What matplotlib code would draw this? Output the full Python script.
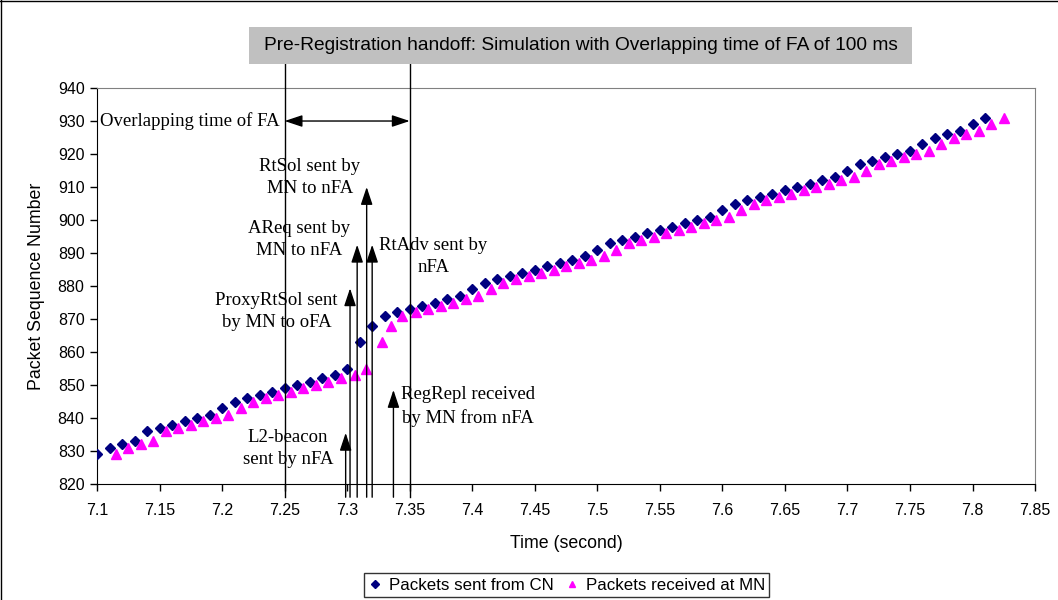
import matplotlib
matplotlib.use("Agg")
import matplotlib.pyplot as plt
from matplotlib.patches import Rectangle
from matplotlib.lines import Line2D

SANS = ["Liberation Sans", "DejaVu Sans"]
SERIF = ["Liberation Serif", "DejaVu Serif"]

# packets leaving the CN (time in s, sequence number)
sent_time = [7.10, 7.11, 7.12, 7.13, 7.14, 7.15, 7.16, 7.17, 7.18, 7.19,
             7.20, 7.21, 7.22, 7.23, 7.24, 7.25, 7.26, 7.27, 7.28, 7.29,
             7.30, 7.31, 7.32, 7.33, 7.34, 7.35, 7.36, 7.37, 7.38, 7.39,
             7.40, 7.41, 7.42, 7.43, 7.44, 7.45, 7.46, 7.47, 7.48, 7.49,
             7.50, 7.51, 7.52, 7.53, 7.54, 7.55, 7.56, 7.57, 7.58, 7.59,
             7.60, 7.61, 7.62, 7.63, 7.64, 7.65, 7.66, 7.67, 7.68, 7.69,
             7.70, 7.71, 7.72, 7.73, 7.74, 7.75, 7.76, 7.77, 7.78, 7.79,
             7.80, 7.81]
sent_seq = [829, 831, 832, 833, 836, 837, 838, 839, 840, 841,
            843, 845, 846, 847, 848, 849, 850, 851, 852, 853,
            855, 863, 868, 871, 872, 873, 874, 875, 876, 877,
            879, 881, 882, 883, 884, 885, 886, 887, 888, 889,
            891, 893, 894, 895, 896, 897, 898, 899, 900, 901,
            903, 905, 906, 907, 908, 909, 910, 911, 912, 913,
            915, 917, 918, 919, 920, 921, 923, 925, 926, 927,
            929, 931]

# packets arriving at the MN
recv_time = [7.115, 7.125, 7.135, 7.145, 7.155, 7.165, 7.175, 7.185, 7.195, 7.205,
             7.215, 7.225, 7.235, 7.245, 7.255, 7.265, 7.275, 7.285, 7.295, 7.306,
             7.315, 7.328, 7.335, 7.344, 7.355, 7.365, 7.375, 7.385, 7.395, 7.405,
             7.415, 7.425, 7.435, 7.445, 7.455, 7.465, 7.475, 7.485, 7.495, 7.505,
             7.515, 7.525, 7.535, 7.545, 7.555, 7.565, 7.575, 7.585, 7.595, 7.605,
             7.615, 7.625, 7.635, 7.645, 7.655, 7.665, 7.675, 7.685, 7.695, 7.705,
             7.715, 7.725, 7.735, 7.745, 7.755, 7.765, 7.775, 7.785, 7.795, 7.805,
             7.815, 7.825]
recv_seq = [829, 831, 832, 833, 836, 837, 838, 839, 840, 841,
            843, 845, 846, 847, 848, 849, 850, 851, 852, 853,
            855, 863, 868, 871, 872, 873, 874, 875, 876, 877,
            879, 881, 882, 883, 884, 885, 886, 887, 888, 889,
            891, 893, 894, 895, 896, 897, 898, 899, 900, 901,
            903, 905, 906, 907, 908, 909, 910, 911, 912, 913,
            915, 917, 918, 919, 920, 921, 923, 925, 926, 927,
            929, 931]

x_ticks = [7.1, 7.15, 7.2, 7.25, 7.3, 7.35, 7.4, 7.45, 7.5, 7.55, 7.6,
           7.65, 7.7, 7.75, 7.8, 7.85]
x_tick_labels = ["7.1", "7.15", "7.2", "7.25", "7.3", "7.35", "7.4", "7.45",
                 "7.5", "7.55", "7.6", "7.65", "7.7", "7.75", "7.8", "7.85"]
y_ticks = [820, 830, 840, 850, 860, 870, 880, 890, 900, 910, 920, 930, 940]

# overlapping window of the two FAs
fa_start, fa_end = 7.25, 7.35

# signalling events: (time, arrow tip)
event_time = [7.2988, 7.3023, 7.308, 7.3156, 7.320, 7.337]
event_tip = [835.5, 879.3, 892.5, 910.0, 892.5, 848.5]

# event captions: (text, x, y)
captions = [
    ("RtSol sent by\nMN to nFA", 7.2703, 912.9),
    ("AReq sent by\nMN to nFA", 7.2615, 894.2),
    ("RtAdv sent by\nnFA", 7.3687, 888.9),
    ("ProxyRtSol sent\nby MN to oFA", 7.2437, 872.4),
    ("L2-beacon\nsent by nFA", 7.2527, 830.8),
    ("RegRepl received\nby MN from nFA", 7.3969, 843.5),
]

fig = plt.figure(figsize=(10.58, 6.0), dpi=100)
ax = fig.add_axes([0.0917, 0.1933, 0.8866, 0.66])

ax.plot(sent_time, sent_seq, linestyle="none", marker="D", markersize=5.3,
        color="#000080", label="Packets sent from CN", zorder=3)
ax.plot(recv_time, recv_seq, linestyle="none", marker="^", markersize=6.5,
        color="#FF00FF", label="Packets received at MN", zorder=3)

ax.set_xlim(7.1, 7.85)
ax.set_ylim(820, 940)
ax.set_xticks(x_ticks)
ax.set_xticklabels(x_tick_labels, family=SANS, fontsize=11.5)
ax.set_yticks(y_ticks)
ax.set_yticklabels([str(v) for v in y_ticks], family=SANS, fontsize=11.5)
ax.tick_params(direction="out", length=5, width=1)
ax.tick_params(axis="x", pad=9)
ax.tick_params(axis="y", pad=4)
for side in ("top", "right"):
    ax.spines[side].set_color("#808080")
for side in ("left", "bottom"):
    ax.spines[side].set_color("black")

fig.text(37 / 1058, 1 - 286 / 600, "Packet Sequence Number", rotation=90,
         ha="center", va="center", family=SANS, fontsize=12.8)
fig.text(566 / 1058, 1 - 543 / 600, "Time (second)", ha="center", va="center",
         family=SANS, fontsize=12.8)

# FA overlap boundaries
for t in (fa_start, fa_end):
    ax.plot([t, t], [816, 953], color="black", lw=1, clip_on=False, zorder=5)

ax.annotate("", xy=(fa_start, 930), xytext=(fa_end, 930),
            arrowprops=dict(arrowstyle="<|-|>,head_length=0.6,head_width=0.2",
                            mutation_scale=18, color="black", lw=1,
                            shrinkA=0, shrinkB=0), zorder=5)
ax.text(7.1024, 930, "Overlapping time of FA", ha="left", va="center",
        family=SERIF, fontsize=13.5)

for t, tip in zip(event_time, event_tip):
    ax.annotate("", xy=(t, tip), xytext=(t, 816), annotation_clip=False,
                arrowprops=dict(arrowstyle="-|>,head_length=0.6,head_width=0.2",
                                mutation_scale=18, color="black", lw=1,
                                shrinkA=0, shrinkB=0), zorder=5)

for text, x, y in captions:
    ax.text(x, y, text, ha="center", va="center", multialignment="center",
            family=SERIF, fontsize=13.5, linespacing=1.38, zorder=4)

# title box
fig.patches.append(Rectangle((249 / 1058, 1 - 64 / 600), 663 / 1058, 37 / 600,
                             transform=fig.transFigure, facecolor="#C0C0C0",
                             edgecolor="none", zorder=1))
fig.text(580.5 / 1058, 1 - 45.5 / 600,
         "Pre-Registration handoff: Simulation with Overlapping time of FA of 100 ms",
         ha="center", va="center", family=SANS, fontsize=13.8, zorder=2)

leg = fig.legend(loc="center", bbox_to_anchor=(566.5 / 1058, 1 - 585 / 600),
                 ncol=2, frameon=True, fancybox=False, handlelength=0.8,
                 handletextpad=0.4, columnspacing=0.7, borderpad=0.25,
                 prop={"family": SANS, "size": 12.2}, markerscale=0.75)
leg.get_frame().set_edgecolor("black")
leg.get_frame().set_linewidth(1)

# chart area edge
fig.add_artist(Line2D([0.001, 0.001], [0, 1], transform=fig.transFigure,
                      color="black", lw=1))
fig.add_artist(Line2D([0, 1], [0.999, 0.999], transform=fig.transFigure,
                      color="black", lw=1))

fig.savefig("out.png", dpi=100)
